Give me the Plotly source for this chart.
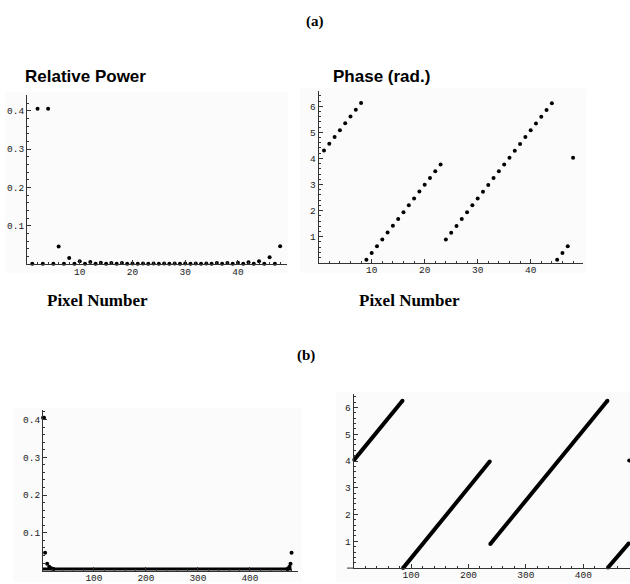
import plotly.graph_objects as go

W, H = 630, 584

# ---------------- data ----------------
pixels_a = list(range(1, 49))
power_a = [0.001, 0.405, 0.001, 0.405, 0.001, 0.046, 0.001, 0.016, 0.001, 0.008,
           0.001, 0.006, 0.001, 0.004, 0.001, 0.003, 0.001, 0.003, 0.001, 0.002,
           0.001, 0.002, 0.001, 0.002, 0.001, 0.002, 0.001, 0.002, 0.001, 0.002,
           0.001, 0.002, 0.001, 0.002, 0.001, 0.003, 0.001, 0.003, 0.001, 0.004,
           0.001, 0.005, 0.001, 0.008, 0.001, 0.018, 0.001, 0.047]
phase_a = [4.30, 4.56, 4.82, 5.08, 5.35, 5.61, 5.87, 6.13, 0.11, 0.37,
           0.63, 0.89, 1.16, 1.42, 1.68, 1.94, 2.20, 2.46, 2.73, 2.99,
           3.25, 3.51, 3.77, 0.89, 1.15, 1.41, 1.68, 1.94, 2.20, 2.46,
           2.72, 2.98, 3.25, 3.51, 3.77, 4.03, 4.29, 4.55, 4.82, 5.08,
           5.34, 5.60, 5.86, 6.12, 0.11, 0.37, 0.63, 4.03]

# (b): 480-pixel version; dense runs of points read as segment end points
power_b_band_x = [2, 480]
power_b_band_y = [0.002, 0.002]
power_b_pts_x = [2, 4, 6, 10, 14, 18, 22, 472, 474, 476, 478, 480]
power_b_pts_y = [0.405, 0.405, 0.047, 0.018, 0.010, 0.006, 0.004,
                 0.004, 0.006, 0.010, 0.018, 0.047]

phase_b_segments = [
    ([1, 85], [4.05, 6.25]),
    ([86, 237], [0.00, 3.98]),
    ([238, 442], [0.90, 6.25]),
    ([443, 479], [0.02, 0.92]),
]
phase_b_last_x = [480]
phase_b_last_y = [4.02]

tick_vals_a_x = [10, 20, 30, 40]
tick_vals_b_x = [100, 200, 300, 400]
tick_vals_power = [0.1, 0.2, 0.3, 0.4]
tick_vals_phase = [1, 2, 3, 4, 5, 6]

DY = 3  # vertical nudge in pixels


def fx(px):
    return px / W


def fy(py):
    return 1 - (py + DY) / H


fig = go.Figure()

MK = dict(color="black", size=4, symbol="circle")

fig.add_trace(go.Scatter(x=pixels_a, y=power_a, mode="markers", marker=MK,
                         xaxis="x", yaxis="y", cliponaxis=False))
fig.add_trace(go.Scatter(x=pixels_a, y=phase_a, mode="markers", marker=MK,
                         xaxis="x2", yaxis="y2", cliponaxis=False))
fig.add_trace(go.Scatter(x=power_b_band_x, y=power_b_band_y, mode="lines",
                         line=dict(color="black", width=4.5),
                         xaxis="x3", yaxis="y3", cliponaxis=False))
fig.add_trace(go.Scatter(x=power_b_pts_x, y=power_b_pts_y, mode="markers", marker=MK,
                         xaxis="x3", yaxis="y3", cliponaxis=False))
for sx, sy in phase_b_segments:
    fig.add_trace(go.Scatter(x=sx, y=sy, mode="lines+markers",
                             line=dict(color="black", width=4),
                             marker=dict(color="black", size=4),
                             xaxis="x4", yaxis="y4", cliponaxis=False))
fig.add_trace(go.Scatter(x=phase_b_last_x, y=phase_b_last_y, mode="markers", marker=MK,
                         xaxis="x4", yaxis="y4", cliponaxis=False))

TICKFONT = dict(family="Liberation Mono", size=9.5, color="#222")


def xax(domain, rng, tickvals, dtick_minor, anchor):
    return dict(domain=domain, range=rng, anchor=anchor, showgrid=False, zeroline=False,
                showline=True, linecolor="#333", linewidth=1,
                ticks="inside", ticklen=4, tickwidth=1, tickcolor="#333",
                tickvals=tickvals, ticktext=[str(v) for v in tickvals], tickfont=TICKFONT,
                ticklabelstandoff=-2,
                minor=dict(ticks="inside", ticklen=2, dtick=dtick_minor, tick0=0,
                           tickcolor="#333", showgrid=False),
                fixedrange=True)


def yax(domain, rng, tickvals, dtick_minor, anchor, texts):
    return dict(domain=domain, range=rng, anchor=anchor, showgrid=False, zeroline=False,
                showline=True, linecolor="#333", linewidth=1,
                ticks="inside", ticklen=4, tickwidth=1, tickcolor="#333",
                tickvals=tickvals, ticktext=texts, tickfont=TICKFONT,
                minor=dict(ticks="inside", ticklen=2, dtick=dtick_minor, tick0=0,
                           tickcolor="#333", showgrid=False),
                fixedrange=True)


fig.update_layout(
    width=W, height=H, margin=dict(l=0, r=0, t=0, b=0),
    paper_bgcolor="white", plot_bgcolor="rgba(0,0,0,0)", showlegend=False,
    xaxis=xax([fx(27), fx(287)], [0, 49.3], tick_vals_a_x, 2, "y"),
    yaxis=yax([fy(263.5), fy(93.2)], [0, 0.44], tick_vals_power, 0.02, "x",
              ["0.1", "0.2", "0.3", "0.4"]),
    xaxis2=xax([fx(318.7), fx(582.6)], [0, 49.8], tick_vals_a_x, 2, "y2"),
    yaxis2=yax([fy(262), fy(88.4)], [0, 6.6], tick_vals_phase, 0.2, "x2",
               [str(v) for v in tick_vals_phase]),
    xaxis3=xax([fx(43), fx(297.8)], [2, 492], tick_vals_b_x, 20, "y3"),
    yaxis3=yax([fy(572.5), fy(411)], [0, 0.424], tick_vals_power, 0.02, "x3",
               ["0.1", "0.2", "0.3", "0.4"]),
    xaxis4=xax([fx(353.7), fx(629.8)], [0, 481], tick_vals_b_x, 20, "y4"),
    yaxis4=yax([fy(570), fy(394.5)], [0, 6.5], tick_vals_phase, 0.2, "x4",
               [str(v) for v in tick_vals_phase]),
)

# faint background of each exported graphic
for (x0, y0, x1, y1) in [(5, 90, 288, 272), (300, 86, 586, 272),
                         (13, 408, 302, 584), (336, 392, 630, 584)]:
    fig.add_shape(type="rect", xref="paper", yref="paper", layer="below",
                  x0=fx(x0), x1=fx(x1), y0=fy(y1), y1=fy(y0),
                  fillcolor="#fbfbfb", line=dict(width=0))

# extension of the phase(b) x-axis to the left of the origin
fig.add_shape(type="line", xref="paper", yref="paper",
              x0=fx(347), x1=fx(353.7), y0=fy(570), y1=fy(570),
              line=dict(color="#333", width=1))

SERIF_B = dict(family="Liberation Serif", size=15, color="black")
SANS_B = dict(family="Liberation Sans", size=17, color="black")
ann = [
    dict(text="<b>(a)</b>", x=fx(315), y=fy(19), font=SERIF_B, xanchor="center"),
    dict(text="<b>Relative Power</b>", x=fx(23), y=fy(74), font=SANS_B, xanchor="left"),
    dict(text="<b>Phase (rad.)</b>", x=fx(331), y=fy(74), font=SANS_B, xanchor="left"),
    dict(text="<b>Pixel Number</b>", x=fx(97), y=fy(300),
         font=dict(family="Liberation Serif", size=17, color="black"), xanchor="center"),
    dict(text="<b>Pixel Number</b>", x=fx(409), y=fy(300),
         font=dict(family="Liberation Serif", size=17, color="black"), xanchor="center"),
    dict(text="<b>(b)</b>", x=fx(306), y=fy(356), font=SERIF_B, xanchor="center"),
]
for a in ann:
    a.update(xref="paper", yref="paper", yanchor="middle", showarrow=False)
    fig.add_annotation(**a)

fig.write_html(
    "out.html",
    config={"displayModeBar": False, "staticPlot": True},
    post_script="document.body.style.margin='0px';document.body.style.overflow='hidden';",
)
